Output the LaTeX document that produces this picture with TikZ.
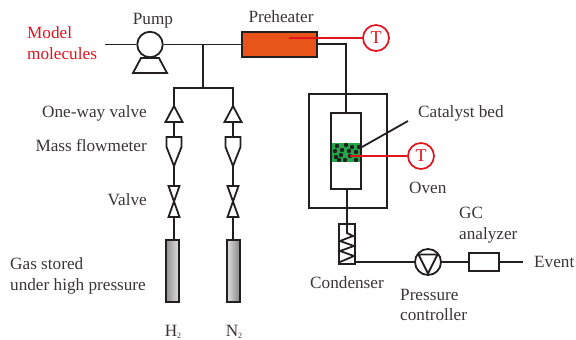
\documentclass[tikz,border=0pt]{standalone}
\usepackage{fontspec}
\setmainfont{Liberation Serif}
\definecolor{ink}{HTML}{231F20}
\definecolor{redc}{HTML}{E1141E}
\definecolor{heater}{HTML}{E8541A}
\definecolor{bed}{HTML}{22A84A}
\tikzset{
 pipe/.style={draw=ink,line width=1.8pt},
 redline/.style={draw=redc,line width=1.7pt},
 lbl/.style={font=\fontsize{17.2}{20}\selectfont,text=ink!90,inner sep=0pt},
 redlbl/.style={font=\fontsize{17.2}{20}\selectfont,text=redc,inner sep=0pt},
 tsens/.style={circle,draw=redc,line width=1.7pt,minimum size=26pt,inner sep=0pt,fill=white,text=redc,font=\fontsize{18}{20}\selectfont},
 boxn/.style={draw=ink,line width=1.8pt,inner sep=0pt},
 dot/.style={circle,fill=ink,draw=none,minimum size=4.4pt,inner sep=0pt},
}
\newcommand{\subtwo}{\raisebox{-2pt}{\fontsize{8}{8}\selectfont 2}}
\begin{document}
\begin{tikzpicture}[x=1pt,y=-1pt]
\useasboundingbox (0,0) rectangle (576,340);
% main line
\coordinate (in) at (105,44.5);
\coordinate (tee) at (203,44.5);
\coordinate (teeb) at (203,88);
\coordinate (la) at (174,88);
\coordinate (lb) at (233,88);
\node[boxn,circle,minimum size=25.5pt] (pump) at (150,44.5) {};
\node[boxn,rectangle,fill=heater,minimum width=75pt,minimum height=25pt] (heat) at (279.5,44.5) {};
\draw[pipe] (in) -- (pump);
\draw[pipe] (pump) -- (heat.west);
\draw[pipe] (tee) -- (teeb);
\draw[pipe,line cap=rect] (la) -- (lb);
\draw[pipe,line join=miter] (141,58) -- (159,58) -- (167,73) -- (133,73) -- cycle;
% gas lines
\foreach \n/\x in {a/174,b/233}{
  \coordinate (t\n) at (\x,88);
  \coordinate (v\n) at (\x,106);
  \coordinate (vb\n) at (\x,122);
  \coordinate (m\n) at (\x,137);
  \coordinate (mt\n) at (\x,166);
  \coordinate (s\n) at (\x,186);
  \coordinate (se\n) at (\x,217);
  \coordinate (c\n) at (\x,240);
  \draw[pipe] (t\n) -- (v\n);
  \draw[pipe] (vb\n) -- (m\n);
  \draw[pipe] (mt\n) -- (s\n);
  \draw[pipe] (se\n) -- (c\n);
  \draw[pipe] (\x,106) -- (\x+8.5,122) -- (\x-8.5,122) -- cycle;
  \draw[pipe] (\x-7.5,137) -- (\x+7.5,137) -- (\x+7.5,147) -- (\x,166) -- (\x-7.5,147) -- cycle;
  \draw[pipe] (\x-5.5,186) -- (\x+5.5,186) -- (\x-5.5,217) -- (\x+5.5,217) -- cycle;
}
\node[boxn,rectangle,minimum width=13pt,minimum height=62pt,left color=gray!85,middle color=gray!45,right color=gray!25] (cyla) at (172.5,271) {};
\node[boxn,rectangle,minimum width=13pt,minimum height=62pt,left color=gray!25,middle color=gray!45,right color=gray!95] (cylb) at (233.5,271) {};
% reactor
\node[boxn,rectangle,minimum width=78pt,minimum height=114pt] (oven) at (348,151) {};
\node[boxn,rectangle,minimum width=30pt,minimum height=76pt] (reac) at (346,151) {};
\node[rectangle,fill=bed,inner sep=0pt,minimum width=28pt,minimum height=19pt] (bedn) at (346,152.5) {};
\foreach \p/\q in {337/146,346/145,352/147,359/147,335/151,342/150,349/151,356/152,336/157,341/155,345/160,350/156,356/160,339/160}{
  \node[dot] at (\p,\q) {};
}
\draw[pipe] (heat.east |- 0,44) -| (reac.north);
\draw[pipe] (347,189) -- (347,224);
% T sensors
\node[tsens] (t1) at (376,38) {T};
\node[tsens] (t2) at (421,156) {T};
\draw[redline] (289,38) -- (t1);
\draw[redline] (350,156) -- (t2);
\coordinate (cb) at (408,121);
\coordinate (cbe) at (362,147);
\draw[pipe] (cb) -- (cbe);
% condenser
\node[boxn,rectangle,minimum width=16pt,minimum height=40pt] (cond) at (347,244) {};
\draw[pipe] (347,224) -- (347,233) -- (353,236) -- (340,241) -- (354,246) -- (340,251) -- (354,256) -- (340,262);
\node[boxn,circle,minimum size=26pt] (pc) at (428,262) {};
\draw[pipe] (418.5,254.5) -- (437.5,254.5) -- (428,273.5) -- cycle;
\node[boxn,rectangle,minimum width=30pt,minimum height=18pt] (gc) at (484,262) {};
\coordinate (ev) at (523,262);
\draw[pipe] (355,262) -- (pc);
\draw[pipe] (pc) -- (gc);
\draw[pipe] (gc) -- (ev);
% labels
\node[redlbl,anchor=base west] (l1) at (27,38) {Model};
\node[redlbl,anchor=base west] (l2) at (27,59) {molecules};
\node[lbl,anchor=base] (l3) at (153,24) {Pump};
\node[lbl,anchor=base] (l4) at (281,23) {Preheater};
\node[lbl,anchor=base east] (l5) at (147,117) {One-way valve};
\node[lbl,anchor=base east] (l6) at (147,151) {Mass flowmeter};
\node[lbl,anchor=base east] (l7) at (147,205) {Valve};
\node[lbl,anchor=base west] (l8) at (10,269) {Gas stored};
\node[lbl,anchor=base west] (l9) at (10,290) {under high pressure};
\node[lbl,anchor=base] (l10) at (173,336) {H\subtwo};
\node[lbl,anchor=base] (l11) at (234,336) {N\subtwo};
\node[lbl,anchor=base west] (l12) at (418,117) {Catalyst bed};
\node[lbl,anchor=base west] (l13) at (409,193) {Oven};
\node[lbl,anchor=base west] (l14) at (459,218) {GC};
\node[lbl,anchor=base west] (l15) at (459,239) {analyzer};
\node[lbl,anchor=base west] (l16) at (534,267) {Event};
\node[lbl,anchor=base east] (l17) at (384,288) {Condenser};
\node[lbl,anchor=base west] (l18) at (400,300) {Pressure};
\node[lbl,anchor=base west] (l19) at (400,320) {controller};
\end{tikzpicture}
\end{document}
